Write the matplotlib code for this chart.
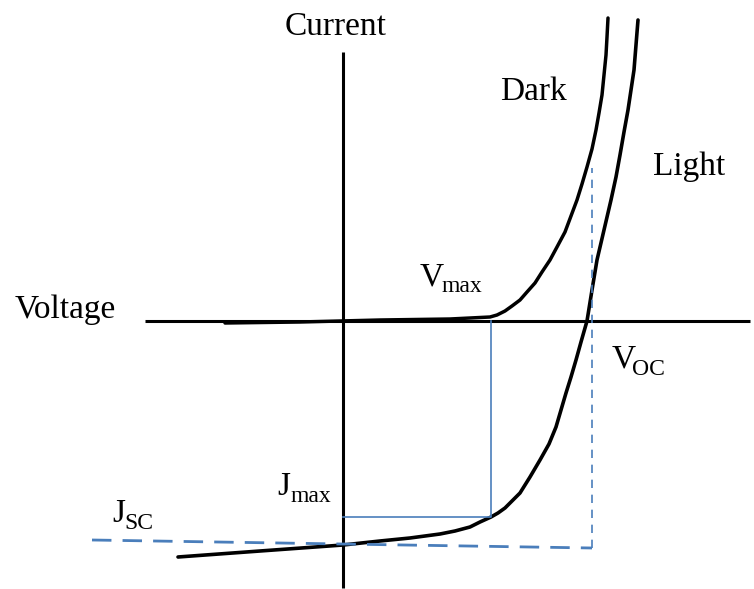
import matplotlib.pyplot as plt

# dark and illuminated I-V curves (voltage, current), origin at the axis crossing
dark_v = [-118, -43, 37, 107, 147, 154, 162, 169, 177, 184, 192, 199, 207, 214, 222,
          228, 234, 239, 244, 249, 253, 256, 259, 261, 263, 264, 265]
dark_i = [-2, -1, 1, 2, 4, 6, 10, 15, 21, 29, 38, 49, 61, 74, 89,
          105, 121, 137, 154, 172, 191, 208, 226, 246, 266, 284, 303]

light_v = [295, 293, 291, 288, 285, 281, 277, 273, 268, 261, 254, 249, 244, 238, 233,
           228, 223, 218, 213, 206, 197, 187, 177, 169, 162, 155, 148, 137, 127, 112,
           97, 67, 37, 0, -83, -165]
light_i = [301, 276, 251, 231, 211, 189, 166, 144, 121, 91, 61, 31, 0, -21, -39,
           -56, -72, -89, -106, -123, -139, -156, -172, -180, -187, -192, -196, -201, -206, -210,
           -213, -217, -220, -224, -230, -236]

# maximum power point, short-circuit current line, open-circuit voltage
v_max, j_max = 148, -196
jsc_v = [-251, 249]
jsc_i = [-219, -227]
v_oc = 249
v_oc_top = 153

blue = '#4a7ebb'

fig = plt.figure(figsize=(7.54, 5.89), dpi=100)
ax = fig.add_axes([0, 0, 1, 1])
ax.set_xlim(-343, 411)
ax.set_ylim(-268, 321)
ax.axis('off')

# axes
ax.plot([-198, 407], [0, 0], color='black', lw=2.2, solid_capstyle='butt')
ax.plot([0, 0], [-267, 269], color='black', lw=2.2, solid_capstyle='butt')

# curves
ax.plot(dark_v, dark_i, color='black', lw=2.5, solid_capstyle='round', solid_joinstyle='round')
ax.plot(light_v, light_i, color='black', lw=2.6, solid_capstyle='round', solid_joinstyle='round')

# max power rectangle
ax.plot([0, v_max, v_max], [j_max, j_max, 0], color=blue, lw=1.2)

# Jsc and Voc guides
ax.plot(jsc_v, jsc_i, color=blue, lw=2.0, dashes=(7, 4))
ax.plot([v_oc, v_oc], [jsc_i[1], v_oc_top], color=blue, lw=1.2, dashes=(5, 4))

fs = 24
sub_fs = 17
font = dict(family='Liberation Serif', va='baseline', ha='left')
ax.text(-58, 286, 'Current', fontsize=fs, **font)
ax.text(157, 221, 'Dark', fontsize=fs, **font)
ax.text(310, 146, 'Light', fontsize=fs, **font)
ax.text(-328, 3, 'Voltage', fontsize=fs, **font)


def label(x, y, main, sub, dx, drop=7):
    ax.text(x, y, main, fontsize=fs, **font)
    ax.text(x + dx, y - drop, sub, fontsize=sub_fs, **font)


label(77, 36, 'V', 'max', 22)
label(269, -47, 'V', 'OC', 20)
label(-66, -174, 'J', 'max', 14)
label(-231, -201, 'J', 'SC', 12)

fig.savefig('out.png', dpi=100)
